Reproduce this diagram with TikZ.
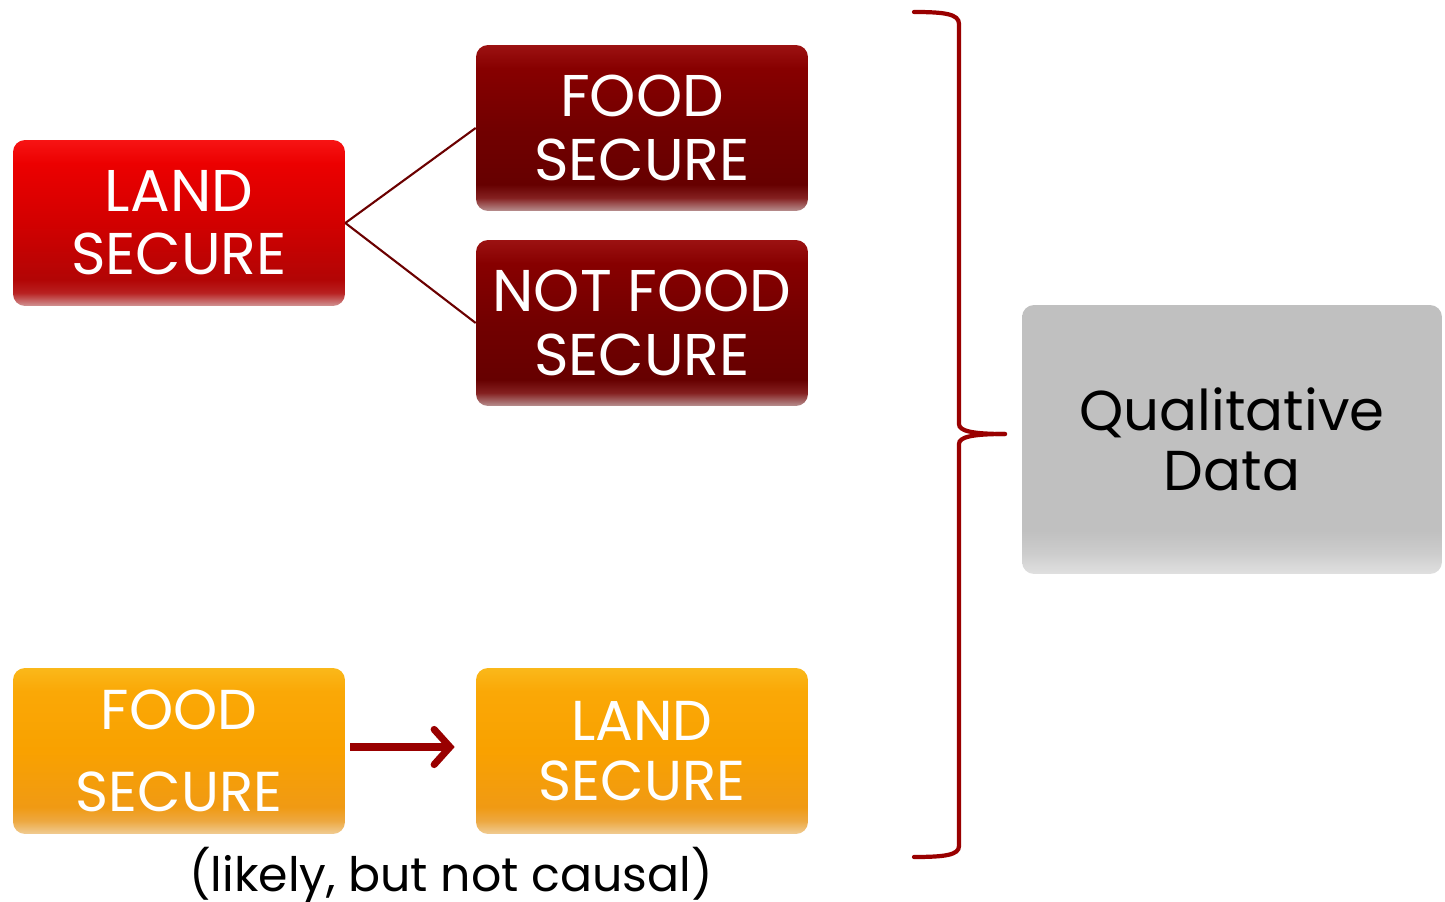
\documentclass[tikz,border=0pt]{standalone}
\usepackage{fontspec}
\setmainfont{Poppins}
\usetikzlibrary{arrows.meta}
\definecolor{linered}{HTML}{6B0000}
\definecolor{bracered}{HTML}{990000}
\definecolor{rA}{HTML}{D19494}
\definecolor{rB}{HTML}{B82020}
\definecolor{rC}{HTML}{B20505}
\definecolor{rD}{HTML}{D20000}
\definecolor{rE}{HTML}{EC0000}
\definecolor{rF}{HTML}{F71414}
\definecolor{dA}{HTML}{B89090}
\definecolor{dB}{HTML}{842020}
\definecolor{dC}{HTML}{660000}
\definecolor{dD}{HTML}{720000}
\definecolor{dE}{HTML}{870000}
\definecolor{dF}{HTML}{9C1212}
\definecolor{oA}{HTML}{F0CC94}
\definecolor{oB}{HTML}{EDA840}
\definecolor{oC}{HTML}{F09A14}
\definecolor{oD}{HTML}{F9A100}
\definecolor{oE}{HTML}{FAA806}
\definecolor{oF}{HTML}{FAB81A}
\definecolor{gA}{HTML}{E0E0E0}
\definecolor{gB}{HTML}{CCCCCC}
\definecolor{gC}{HTML}{C0C0C0}
\pgfdeclareverticalshading{redbox}{100bp}{%
  color(0bp)=(rA); color(25bp)=(rA); color(29bp)=(rB); color(33bp)=(rC);
  color(50bp)=(rD); color(68bp)=(rE); color(75bp)=(rF); color(100bp)=(rF)}
\pgfdeclareverticalshading{darkbox}{100bp}{%
  color(0bp)=(dA); color(25bp)=(dA); color(29bp)=(dB); color(33bp)=(dC);
  color(50bp)=(dD); color(68bp)=(dE); color(75bp)=(dF); color(100bp)=(dF)}
\pgfdeclareverticalshading{orangebox}{100bp}{%
  color(0bp)=(oA); color(25bp)=(oA); color(29bp)=(oB); color(33bp)=(oC);
  color(50bp)=(oD); color(68bp)=(oE); color(75bp)=(oF); color(100bp)=(oF)}
\pgfdeclareverticalshading{graybox}{100bp}{%
  color(0bp)=(gA); color(25bp)=(gA); color(29bp)=(gB); color(33bp)=(gC);
  color(100bp)=(gC)}
\tikzset{
  box/.style={rounded corners=0.24cm, minimum width=6.64cm, minimum height=3.32cm,
    inner sep=0pt, align=center, text=white,
    font=\fontsize{33.5}{36}\selectfont},
  redb/.style={box, shading=redbox},
  darkb/.style={box, shading=darkbox},
  orangeb/.style={box, shading=orangebox, font=\fontsize{32}{34}\selectfont},
  grayb/.style={box, shading=graybox, text=black, minimum width=8.4cm, minimum height=5.38cm,
    font=\fontsize{32}{34}\selectfont},
  link/.style={draw=linered, line width=1.2pt},
  bigarrow/.style={draw=bracered, line width=4pt, -{Straight Barb[length=9pt, width=20pt, line cap=round]}},
  bracestyle/.style={draw=bracered, line width=2.4pt, line cap=round}
}
\begin{document}
\begin{tikzpicture}[x=0.02cm, y=-0.02cm]
\useasboundingbox (0,0) rectangle (1445,902);
\node[redb] (land1) at (179,223) {LAND\\SECURE};
\node[darkb] (food1) at (642,128) {FOOD\\SECURE};
\node[darkb] (notfood) at (642,323) {NOT FOOD\\SECURE};
\node[orangeb, font=\fontsize{32}{47}\selectfont] (food2) at (179,751) {FOOD\\SECURE};
\node[orangeb] (land2) at (642,751) {LAND\\SECURE};
\node[grayb] (qual) at (1232,439.5) {Qualitative\\Data};
\node[anchor=base, font=\fontsize{27}{30}\selectfont] (cap) at (451,891) {(likely, but not causal)};
\draw[link] (land1.east) -- (food1.west);
\draw[link] (land1.east) -- (notfood.west);
\draw[bigarrow, shorten <=0.1cm, shorten >=0.42cm] ([yshift=0.08cm]food2.east) -- ([yshift=0.08cm]land2.west);
\coordinate (btop) at (914,12);
\coordinate (btip) at (1005,434);
\coordinate (bbot) at (914,857);
\draw[bracestyle] (btop) .. controls (945,12) and (959,14) .. (959,24) -- (959,424)
  .. controls (959,431) and (972,434) .. (btip);
\draw[bracestyle] (btip) .. controls (972,434) and (959,437) .. (959,444) -- (959,846)
  .. controls (959,855) and (945,857) .. (bbot);
\end{tikzpicture}
\end{document}
